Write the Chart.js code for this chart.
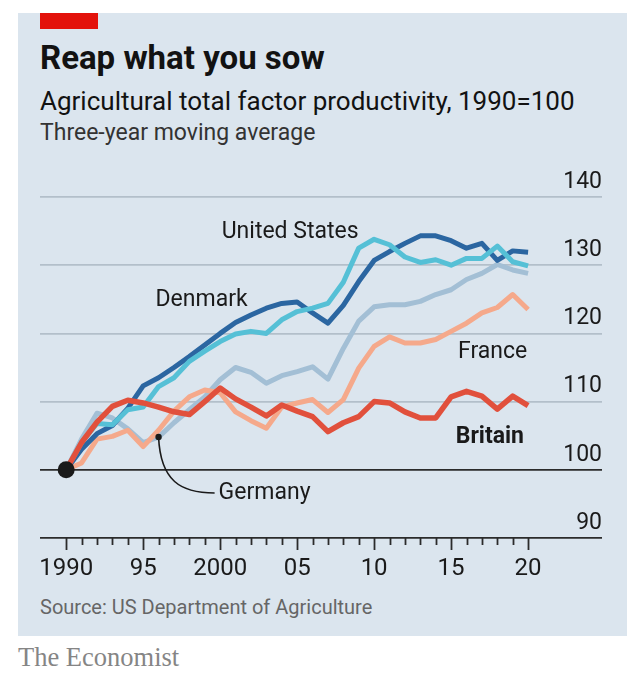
<!DOCTYPE html>
<html>
<head>
<meta charset="utf-8">
<script src="https://cdn.jsdelivr.net/npm/chart.js@4.4.1/dist/chart.umd.min.js"></script>
<style>
  html, body { margin: 0; padding: 0; background: #fff; }
  body { width: 633px; height: 680px; position: relative; overflow: hidden; font-family: Roboto, "Noto Sans", sans-serif; }
  .panel { position: absolute; left: 18px; top: 13px; width: 609px; height: 623px; background: #dbe5ee; }
  .redbar { position: absolute; left: 40px; top: 13px; width: 58px; height: 16px; background: #e3120b; }
  .txt { position: absolute; left: 40px; line-height: 1; white-space: nowrap; }
  #title { top: 41px; font-size: 33px; font-weight: 700; color: #121212; }
  #subtitle { top: 88px; font-size: 26px; color: #121212; }
  #note { top: 121px; font-size: 23px; color: #333; }
  #source { top: 597px; font-size: 20px; color: #666; }
  #brand { left: 18px; top: 644px; font-family: "Liberation Serif", "DejaVu Serif", serif; font-size: 26.5px; color: #858585; }
  #wrap { position: absolute; left: 0; top: 0; width: 633px; height: 680px; }
</style>
</head>
<body>
<div class="panel"></div>
<div class="redbar"></div>
<div class="txt" id="title">Reap what you sow</div>
<div class="txt" id="subtitle">Agricultural total factor productivity, 1990=100</div>
<div class="txt" id="note">Three-year moving average</div>
<div class="txt" id="source">Source: US Department of Agriculture</div>
<div class="txt" id="brand">The Economist</div>
<div id="wrap"><canvas id="chart"></canvas></div>

<script>
// years 1990..2020, index 1990=100
const years = [
  1990, 1991, 1992, 1993, 1994, 1995, 1996, 1997, 1998, 1999,
  2000, 2001, 2002, 2003, 2004, 2005, 2006, 2007, 2008, 2009,
  2010, 2011, 2012, 2013, 2014, 2015, 2016, 2017, 2018, 2019, 2020,
];
const britain = [
  100, 104, 107, 109.3, 110.2, 109.8, 109.2, 108.5, 108.1, 110,
  112, 110.4, 109.2, 107.9, 109.5, 108.6, 107.8, 105.6, 106.9, 107.8,
  110, 109.8, 108.5, 107.6, 107.6, 110.7, 111.5, 110.8, 108.9, 110.8, 109.4,
];
const unitedStates = [
  100, 104, 106.8, 106.6, 108.8, 109.2, 112.2, 113.5, 115.9, 117.4,
  118.8, 119.9, 120.3, 120, 122, 123.2, 123.7, 124.4, 127.5, 132.5,
  133.8, 133, 131.2, 130.4, 130.8, 130, 131, 131, 132.8, 130.5, 129.9,
];
const denmark = [
  100, 103, 105.3, 106.5, 109, 112.3, 113.5, 115, 116.6, 118.3,
  120, 121.6, 122.7, 123.7, 124.4, 124.6, 123, 121.5, 124.1, 127.6,
  130.7, 132, 133.2, 134.3, 134.3, 133.6, 132.5, 133.2, 130.7, 132.1, 131.9,
];
const france = [
  100, 101, 104.5, 104.9, 105.8, 103.4, 105.8, 108.6, 110.7, 111.7,
  111.3, 108.5, 107.2, 106.1, 109.2, 109.8, 110.3, 108.4, 110.3, 114.9,
  118.1, 119.5, 118.6, 118.6, 119.1, 120.3, 121.5, 123, 123.8, 125.7, 123.5,
];
const germany = [
  100, 104.5, 108.3, 107.6, 106, 104, 104.8, 106.9, 108.8, 110.7,
  113.2, 115, 114.3, 112.7, 113.8, 114.4, 115.1, 113.3, 117.8, 121.8,
  123.9, 124.2, 124.2, 124.7, 125.7, 126.4, 127.9, 128.8, 130.1, 129.3, 128.8,
];
const yTicks = [90, 100, 110, 120, 130, 140];

const FONT = "Roboto, 'Noto Sans', sans-serif";
const INK = "#1a1a1a";

function xLabel(v) {
  if (v % 5 !== 0) return "";
  if (v === 1990 || v === 2000) return String(v);
  return String(v).slice(2);
}

function pts(vals) {
  return vals.map((v, i) => ({ x: years[i], y: v }));
}

// text labels next to the lines, tied to chart values
const seriesLabels = [
  { text: "United States", x: 2000.1, y: 134.9, bold: false },
  { text: "Denmark", x: 1995.8, y: 124.9, bold: false },
  { text: "France", x: 2015.45, y: 117.3, bold: false },
  { text: "Britain", x: 2015.3, y: 104.8, bold: true },
  { text: "Germany", x: 1999.9, y: 96.6, bold: false },
];

const overlay = {
  id: "overlay",
  afterDraw(chart) {
    const { ctx } = chart;
    const xs = chart.scales.x;
    const ys = chart.scales.y;
    const axisY = ys.getPixelForValue(90);

    // x tick marks: long every 5 years, short otherwise
    ctx.save();
    ctx.strokeStyle = "#2b2b2b";
    ctx.lineWidth = 1.8;
    for (const yr of years) {
      const px = Math.round(xs.getPixelForValue(yr)) + 0.5;
      const len = yr % 5 === 0 ? 12 : 7;
      ctx.beginPath();
      ctx.moveTo(px, axisY);
      ctx.lineTo(px, axisY + len);
      ctx.stroke();
    }

    // Germany pointer
    const gx = xs.getPixelForValue(1996);
    const gy = ys.getPixelForValue(germany[6]);
    const ex = xs.getPixelForValue(1999.9) - 4;
    const ey = ys.getPixelForValue(96.6);
    ctx.strokeStyle = "#1a1a1a";
    ctx.lineWidth = 1.6;
    ctx.beginPath();
    ctx.moveTo(gx, gy);
    ctx.bezierCurveTo(gx + 2, gy + 44, gx + 22, ey, ex, ey);
    ctx.stroke();
    ctx.fillStyle = "#1a1a1a";
    ctx.beginPath();
    ctx.arc(gx, gy, 3.2, 0, Math.PI * 2);
    ctx.fill();

    // series names
    ctx.textAlign = "left";
    ctx.textBaseline = "middle";
    for (const l of seriesLabels) {
      ctx.font = (l.bold ? "700 " : "400 ") + "23px " + FONT;
      ctx.fillStyle = INK;
      ctx.fillText(l.text, xs.getPixelForValue(l.x), ys.getPixelForValue(l.y));
    }
    ctx.restore();
  },
};

new Chart(document.getElementById("chart"), {
  type: "line",
  data: {
    datasets: [
      {
        label: "Britain",
        data: pts(britain),
        borderColor: "#e1503c",
        borderWidth: 5.5,
        pointRadius: (c) => (c.dataIndex === 0 ? 8.5 : 0),
        pointBackgroundColor: "#1a1a1a",
        pointBorderWidth: 0,
      },
      {
        label: "United States",
        data: pts(unitedStates),
        borderColor: "#55c0d6",
        borderWidth: 5,
        pointRadius: 0,
      },
      {
        label: "Denmark",
        data: pts(denmark),
        borderColor: "#2b66a1",
        borderWidth: 5,
        pointRadius: 0,
      },
      {
        label: "France",
        data: pts(france),
        borderColor: "#f5a98b",
        borderWidth: 5,
        pointRadius: 0,
      },
      {
        label: "Germany",
        data: pts(germany),
        borderColor: "#a3bfd5",
        borderWidth: 5,
        pointRadius: 0,
      },
    ],
  },
  options: {
    responsive: true,
    maintainAspectRatio: false,
    animation: false,
    layout: { padding: { left: 40, right: 31, top: 197, bottom: 92 } },
    elements: { line: { tension: 0, borderJoinStyle: "round", borderCapStyle: "butt" } },
    plugins: { legend: { display: false }, tooltip: { enabled: false } },
    scales: {
      x: {
        type: "linear",
        min: 1988.3,
        max: 2024.8,
        afterBuildTicks: (s) => { s.ticks = years.map((v) => ({ value: v })); },
        afterFit: (s) => { s.height = 50; },
        grid: { display: false, drawTicks: false },
        border: { display: false },
        ticks: {
          autoSkip: false,
          maxRotation: 0,
          padding: 17,
          color: INK,
          font: { family: FONT, size: 24 },
          callback: (v) => xLabel(v),
        },
      },
      y: {
        position: "right",
        min: 90,
        max: 140,
        afterBuildTicks: (s) => { s.ticks = yTicks.map((v) => ({ value: v })); },
        afterFit: (s) => { s.width = 0; },
        border: { display: false },
        grid: {
          drawTicks: false,
          lineWidth: 1.8,
          color: (c) => (c.tick && (c.tick.value === 90 || c.tick.value === 100) ? "#2b2b2b" : "#b3bfca"),
        },
        ticks: {
          mirror: true,
          padding: 0,
          labelOffset: -15,
          color: INK,
          font: { family: FONT, size: 23 },
        },
      },
    },
  },
  plugins: [overlay],
});
</script>
</body>
</html>
